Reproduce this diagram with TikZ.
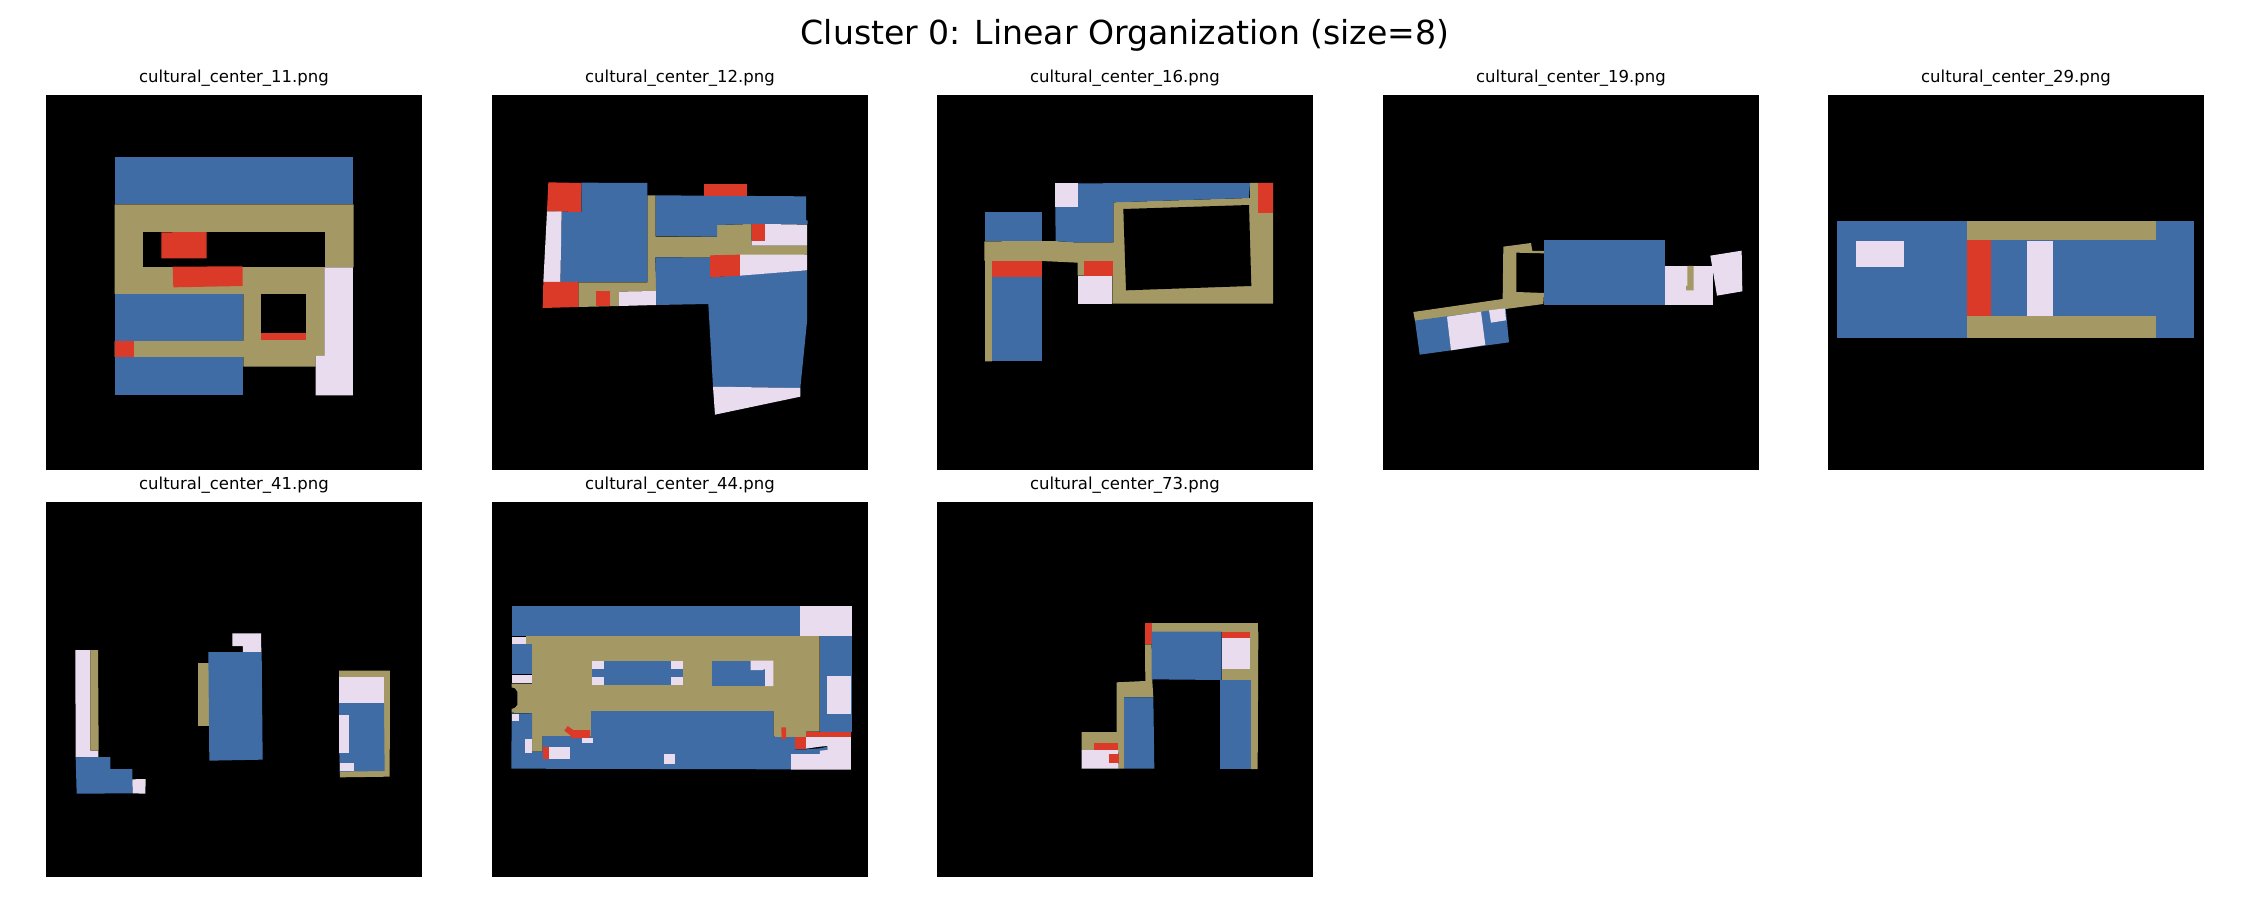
\documentclass[tikz,border=0pt]{standalone}
\usepackage{fontspec}
\setmainfont{DejaVu Sans}

\definecolor{roomblue}{HTML}{3F6CA5}
\definecolor{halltan}{HTML}{A49964}
\definecolor{corered}{HTML}{DB3A28}
\definecolor{auxlilac}{HTML}{E8DCEE}

\tikzset{
  room/.style={fill=roomblue},
  hall/.style={fill=halltan},
  core/.style={fill=corered},
  aux/.style={fill=auxlilac},
  void/.style={fill=black},
  plantitle/.style={font=\fontsize{4.69pt}{5.5pt}\selectfont, text=black, inner sep=0pt},
}

\begin{document}
\begin{tikzpicture}[x=0.01cm,y=-0.01cm]
\useasboundingbox (0,0) rectangle (2250,900);

\node[font=\fontsize{9.41pt}{11pt}\selectfont, inner sep=0pt] (maintitle) at (1125,35) {Cluster 0: Linear Organization (size=8)};

\foreach \px/\py/\num in {46/95/11, 492/95/12, 937/95/16, 1383/95/19, 1828/95/29, 46/502/41, 492/502/44, 937/502/73} {
    \fill[black] (\px,\py) rectangle ++(376,375);
    \node[plantitle] (label\num) at (\px+188,\py-17) {cultural\_center\_\num.png};
}

\begin{scope}[shift={(0,50)},scale=1/3]
    \fill[room] (344,322) rectangle (1060,463);
    \fill[hall] (344,463) -- (1061,463) -- (1061,652) -- (973,652) -- (973,918) -- (947,918) -- (947,950) -- (730,950) -- (730,921) -- (344,921) -- (344,873) -- (730,873) -- (730,732) -- (344,732) -- cycle;
    \fill[void] (428,547) rectangle (974,652);
    \fill[hall] (518,650) rectangle (973,732);
    \fill[void] (782,733) rectangle (919,850);
    \fill[core] (782,850) rectangle (919,869);
    \fill[core] (484,547) -- (620,546) -- (620,625) -- (484,625) -- cycle;
    \fill[core] (518,650) -- (728,649) -- (728,708) -- (520,712) -- cycle;
    \fill[room] (344,732) rectangle (730,873);
    \fill[core] (344,873) rectangle (403,921);
    \fill[room] (344,921) rectangle (730,1035);
    \fill[aux] (973,652) -- (1059,652) -- (1059,1036) -- (947,1036) -- (947,918) -- (973,918) -- cycle;
\end{scope}

\begin{scope}[shift={(470,50)},scale=1/3]
    \fill[hall] (325,697) -- (532,697) -- (532,436) -- (557,436) -- (557,560) -- (741,560) -- (741,525) -- (845,522) -- (845,587) -- (1011,587) -- (1011,614) -- (720,623) -- (556,622) -- (559,725) -- (447,725) -- (447,768) -- (325,771) -- cycle;
    \fill[room] (334,398) -- (532,399) -- (532,696) -- (271,696) -- (275,484) -- (334,486) -- cycle;
    \fill[core] (235,397) -- (334,399) -- (333,486) -- (231,484) -- cycle;
    \fill[aux] (231,484) -- (275,484) -- (271,696) -- (220,696) -- cycle;
    \fill[core] (220,696) -- (325,696) -- (325,771) -- (218,774) -- cycle;
    \fill[core] (378,723) rectangle (420,769);
    \fill[aux] (447,725) -- (559,723) -- (559,765) -- (447,768) -- cycle;
    \fill[room] (557,436) -- (1008,439) -- (1008,510) -- (1013,512) -- (1013,523) -- (845,522) -- (741,525) -- (741,560) -- (557,558) -- cycle;
    \fill[core] (702,401) rectangle (830,438);
    \fill[aux] (885,522) -- (1011,524) -- (1011,587) -- (845,587) -- (845,572) -- (885,572) -- cycle;
    \fill[core] (845,522) rectangle (885,572);
    \fill[room] (556,622) -- (720,623) -- (720,682) -- (1011,661) -- (1011,815) -- (991,1014) -- (729,1010) -- (715,762) -- (559,765) -- cycle;
    \fill[core] (720,616) -- (810,614) -- (810,677) -- (720,682) -- cycle;
    \fill[aux] (810,614) -- (1011,614) -- (1011,661) -- (810,677) -- cycle;
    \fill[aux] (729,1010) -- (991,1014) -- (991,1040) -- (735,1094) -- cycle;
\end{scope}

\begin{scope}[shift={(920,50)},scale=1/3]
    \fill[room] (194,486) rectangle (365,574);
    \fill[hall] (193,574) -- (404,573) -- (463,577) -- (580,577) -- (580,457) -- (990,444) -- (990,399) -- (1059,399) -- (1059,761) -- (577,761) -- (577,677) -- (473,677) -- (473,638) -- (365,633) -- (216,633) -- (216,934) -- (195,934) -- (195,632) -- (193,632) -- cycle;
    \fill[void] (610,477) -- (987,465) -- (994,708) -- (618,721) -- cycle;
    \fill[core] (1015,399) rectangle (1059,490);
    \fill[room] (405,400) -- (990,399) -- (987,444) -- (580,457) -- (580,577) -- (463,577) -- (407,573) -- cycle;
    \fill[aux] (405,400) rectangle (474,472);
    \fill[core] (216,633) rectangle (366,680);
    \fill[room] (216,680) rectangle (366,934);
    \fill[core] (492,633) rectangle (578,677);
    \fill[aux] (473,677) rectangle (577,761);
\end{scope}

\begin{scope}[shift={(1370,50)},scale=1/3]
    \fill[hall] (130,786) -- (398,747) -- (400,590) -- (483,579) -- (487,603) -- (522,603) -- (522,610) -- (439,608) -- (439,726) -- (522,729) -- (520,762) -- (407,777) -- (135,813) -- cycle;
    \fill[room] (522,571) rectangle (886,764);
    \fill[room] (135,812) -- (407,775) -- (417,877) -- (149,914) -- cycle;
    \fill[aux] (231,800) -- (333,785) -- (346,885) -- (243,901) -- cycle;
    \fill[aux] (357,781) -- (405,775) -- (408,811) -- (363,818) -- cycle;
    \fill[aux] (886,649) rectangle (1028,764);
    \fill[hall] (952,648) -- (971,648) -- (971,721) -- (948,721) -- (948,708) -- (952,708) -- cycle;
    \fill[aux] (1021,617) -- (1115,602) -- (1117,724) -- (1041,737) -- cycle;
\end{scope}

\begin{scope}[shift={(1820,50)},scale=1/3]
    \fill[room] (50,514) rectangle (1123,864);
    \fill[hall] (441,514) rectangle (1009,571);
    \fill[hall] (441,798) rectangle (1009,864);
    \fill[core] (441,571) rectangle (514,797);
    \fill[aux] (620,572) rectangle (698,797);
    \fill[aux] (107,572) rectangle (252,651);
\end{scope}

\begin{scope}[shift={(30,470)},scale=1/3]
    \fill[aux] (136,540) -- (181,540) -- (181,842) -- (205,842) -- (205,862) -- (137,862) -- cycle;
    \fill[hall] (181,540) -- (204,540) -- (206,842) -- (181,842) -- cycle;
    \fill[room] (137,862) -- (241,861) -- (241,897) -- (307,897) -- (308,970) -- (140,971) -- cycle;
    \fill[aux] (307,928) -- (347,927) -- (346,971) -- (308,970) -- cycle;
    \fill[aux] (607,490) -- (693,490) -- (694,547) -- (639,547) -- (639,528) -- (607,528) -- cycle;
    \fill[hall] (505,580) rectangle (536,768);
    \fill[room] (535,546) -- (695,546) -- (698,869) -- (538,872) -- cycle;
    \fill[hall] (927,602) -- (1080,602) -- (1079,920) -- (930,922) -- cycle;
    \fill[aux] (927,621) rectangle (1062,699);
    \fill[room] (927,699) -- (1062,699) -- (1064,903) -- (929,905) -- cycle;
    \fill[aux] (927,735) rectangle (956,849);
    \fill[aux] (929,880) rectangle (973,904);
\end{scope}

\begin{scope}[shift={(470,470)},scale=1/3]
    \fill[room] (125,408) rectangle (990,498);
    \fill[aux] (990,409) rectangle (1145,497);
    \fill[room] (1049,497) rectangle (1145,785);
    \fill[aux] (1072,617) rectangle (1144,733);
    \fill[hall] (168,498) -- (1049,498) -- (1049,785) -- (1008,785) -- (1008,801) -- (915,801) -- (910,795) -- (910,723) -- (363,723) -- (363,798) -- (218,798) -- (218,845) -- (186,845) -- (186,730) -- (125,728) -- (125,717) -- (135,713) -- (142,705) -- (142,665) -- (135,655) -- (125,652) -- (125,641) -- (186,641) -- (186,522) -- (168,522) -- cycle;
    \fill[room] (366,572) rectangle (640,646);
    \foreach \wx/\wy in {366/572, 366/620, 604/572, 604/620} {
        \fill[aux] (\wx,\wy) rectangle ++(36,26);
    }
    \fill[room] (726,572) rectangle (910,648);
    \fill[aux] (842,572) -- (910,572) -- (910,648) -- (885,648) -- (885,597) -- (877,600) -- (842,600) -- cycle;
    \fill[aux] (127,500) rectangle (168,522);
    \fill[room] (125,523) rectangle (186,613);
    \fill[aux] (125,614) rectangle (186,639);
    \fill[room] (125,730) -- (186,730) -- (186,845) -- (218,845) -- (218,798) -- (363,798) -- (363,723) -- (910,723) -- (910,795) -- (915,801) -- (975,801) -- (975,838) -- (1008,838) -- (1050,835) -- (1072,830) -- (1072,840) -- (1050,852) -- (963,852) -- (963,898) -- (124,896) -- cycle;
    \fill[aux] (127,731) rectangle (147,752);
    \fill[aux] (1008,801) -- (1143,801) -- (1143,899) -- (963,899) -- (963,852) -- (1050,852) -- (1050,842) -- (1072,840) -- (1072,828) -- (1050,830) -- (1008,836) -- cycle;
    \fill[core] (1008,785) rectangle (1142,801);
    \fill[core] (975,801) rectangle (1008,838);
    \fill[core] (934,772) -- (948,772) -- (948,807) -- (935,807) -- cycle;
    \fill[core] (283,782) -- (293,768) -- (310,780) -- (360,780) -- (360,803) -- (305,805) -- (300,795) -- cycle;
    \fill[core] (218,832) rectangle (237,867);
    \fill[aux] (237,832) rectangle (301,866);
    \fill[aux] (336,805) rectangle (368,820);
    \fill[aux] (165,808) rectangle (186,848);
    \fill[aux] (583,852) rectangle (614,883);
\end{scope}

\begin{scope}[shift={(920,470)},scale=1/3]
    \fill[hall] (695,460) rectangle (1015,485);
    \fill[hall] (990,485) -- (1015,485) -- (1013,897) -- (992,897) -- cycle;
    \fill[hall] (905,598) rectangle (992,630);
    \fill[hall] (675,523) -- (695,523) -- (697,634) -- (700,682) -- (612,682) -- (612,896) -- (596,896) -- (594,820) -- (522,820) -- (522,840) -- (485,840) -- (485,786) -- (590,786) -- (590,637) -- (676,633) -- cycle;
    \fill[core] (675,460) rectangle (695,523);
    \fill[room] (695,485) -- (905,485) -- (905,630) -- (695,628) -- cycle;
    \fill[core] (905,485) rectangle (990,504);
    \fill[aux] (905,504) rectangle (990,598);
    \fill[room] (900,630) rectangle (992,896);
    \fill[room] (612,682) -- (700,682) -- (703,896) -- (612,896) -- cycle;
    \fill[core] (522,820) rectangle (594,840);
    \fill[aux] (485,840) -- (594,840) -- (596,896) -- (485,896) -- cycle;
    \fill[core] (566,853) rectangle (596,880);
\end{scope}

\end{tikzpicture}
\end{document}
